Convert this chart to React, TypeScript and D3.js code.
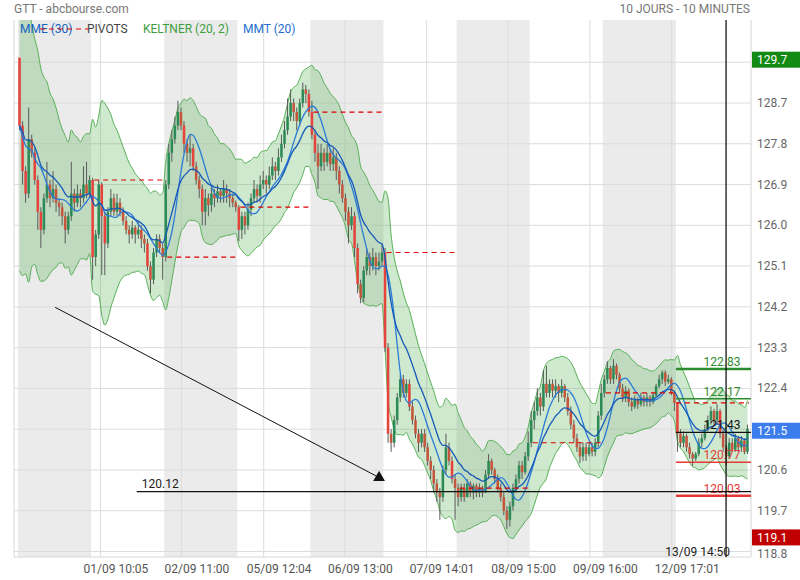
import React from "react";
import * as d3 from "d3";

const W = 800;
const H = 580;
const BARS_PER_DAY = 24;
const FIRST_OPEN = 129.7;

// closes, one row per trading day (24 bars each)
const closes = [
  128.2,127.2,126.7,127.9,127.6,127.0,126.3,125.9,126.6,126.9,126.6,126.8,126.5,126.4,126.2,125.9,126.2,126.7,126.5,126.7,126.6,126.9,126.7,127.0,
  125.3,125.8,126.9,126.2,125.6,126.3,126.6,126.3,126.5,126.3,126.1,125.9,125.8,125.95,125.8,125.9,125.7,125.6,125.1,124.8,125.4,125.7,125.5,125.3,
  126.9,127.6,127.9,128.2,128.5,128.2,127.8,127.6,127.7,127.3,127.0,126.8,126.3,126.6,126.45,126.7,126.6,126.75,126.65,126.8,126.7,126.6,126.5,126.4,
  125.9,126.2,126.0,126.35,126.6,126.8,126.65,126.9,127.0,126.9,127.1,127.3,127.2,127.5,127.8,128.1,128.4,128.7,128.5,128.3,128.7,129.0,128.9,128.5,
  128.0,127.6,127.3,127.6,127.4,127.6,127.35,127.5,127.2,126.9,126.6,126.3,126.0,126.2,125.5,124.7,124.4,125.0,125.3,125.1,125.3,125.1,125.2,125.4,
  123.3,121.4,121.2,121.7,122.2,122.6,122.3,122.5,122.0,121.7,121.4,121.2,121.4,121.1,120.8,120.6,120.3,120.1,120.0,120.6,121.1,120.8,120.4,120.2,
  120.0,120.2,120.0,120.3,120.1,120.25,120.1,120.2,120.1,120.5,120.8,120.6,120.4,120.2,120.0,119.7,119.5,119.8,120.2,120.4,120.7,120.55,120.9,121.2,
  121.7,121.9,122.2,122.0,122.5,122.3,122.5,122.35,122.45,122.3,122.45,122.2,121.9,121.6,121.3,121.1,120.9,121.1,120.95,121.1,121.0,121.2,121.8,122.3,
  122.6,122.85,122.6,122.9,122.7,122.4,122.2,122.35,122.1,122.0,122.15,122.05,122.2,122.1,122.2,122.1,122.25,122.45,122.6,122.75,122.55,122.6,122.3,122.08,
  121.4,121.2,121.35,121.1,120.95,120.85,120.95,121.2,121.3,121.5,121.7,121.9,121.7,121.9,121.4,121.1,120.9,121.2,121.05,121.3,121.1,121.25,121.0,121.51,
];

const highs = [
  129.7,128.3,127.3,128.6,128.0,127.7,127.1,126.4,126.7,127.4,127.0,127.2,126.9,126.6,126.5,126.3,126.3,127.4,126.8,126.9,126.8,127.3,127.4,127.1,
  127.05,125.9,127.0,126.95,126.3,126.4,126.8,126.7,126.7,126.6,126.4,126.2,126.0,126.1,126.0,126.1,126.0,125.8,125.7,125.2,125.5,125.8,125.8,125.6,
  127.0,127.8,128.1,128.4,128.75,128.6,128.3,127.9,128.0,127.8,127.4,127.1,126.9,126.8,126.7,126.9,126.8,126.9,126.8,127.0,126.9,126.8,126.7,126.55,
  126.45,126.3,126.3,126.5,126.7,127.0,126.9,127.1,127.2,127.1,127.3,127.5,127.4,127.7,128.0,128.3,128.8,129.0,128.8,128.6,128.8,129.15,129.1,129.0,
  128.75,128.1,127.8,127.8,127.7,127.8,127.7,127.7,127.6,127.3,127.0,126.7,126.4,126.4,126.3,125.6,124.8,125.1,125.5,125.4,125.5,125.4,125.4,125.6,
  125.5,123.4,121.5,121.8,122.3,122.7,122.7,122.6,122.6,122.1,121.8,121.5,121.5,121.5,121.2,120.9,120.7,120.4,120.2,120.7,121.4,121.2,120.9,120.5,
  120.3,120.3,120.3,120.4,120.35,120.3,120.3,120.3,120.25,120.6,120.95,120.85,120.65,120.5,120.3,120.1,119.8,119.9,120.3,120.5,120.8,120.8,121.0,121.45,
  121.9,122.1,122.4,122.3,122.8,122.9,122.6,122.6,122.6,122.5,122.6,122.5,122.3,122.0,121.7,121.4,121.2,121.2,121.2,121.2,121.2,121.3,121.9,122.5,
  122.7,123.0,122.9,123.05,122.95,122.75,122.5,122.45,122.4,122.2,122.25,122.2,122.3,122.25,122.3,122.25,122.3,122.5,122.7,122.8,122.8,122.7,122.65,122.35,
  122.09,121.5,121.45,121.4,121.2,121.0,121.0,121.3,121.4,121.6,121.8,122.0,121.95,122.05,121.95,121.5,121.15,121.3,121.3,121.4,121.35,121.35,121.3,121.6,
];

const lows = [
  128.1,126.9,126.5,126.6,127.5,126.9,125.9,125.5,125.8,126.5,126.4,126.5,126.3,126.2,126.0,125.6,125.8,126.1,126.3,126.4,126.4,126.5,126.6,126.6,
  124.8,125.1,125.7,124.9,124.9,125.5,126.2,126.2,126.2,126.2,126.0,125.8,125.6,125.7,125.6,125.7,125.5,125.4,125.0,124.5,124.7,125.3,125.4,124.8,
  125.2,126.8,127.4,127.8,128.1,128.1,127.6,127.4,127.3,127.2,126.9,126.6,126.0,126.0,126.2,126.3,126.4,126.5,126.5,126.5,126.5,126.4,126.4,126.3,
  125.65,125.7,125.8,125.9,126.2,126.5,126.5,126.5,126.8,126.7,126.8,127.0,127.0,127.1,127.4,127.7,128.0,128.3,128.3,128.1,128.2,128.6,128.7,128.4,
  127.9,127.4,126.8,127.2,127.2,127.3,127.2,127.2,127.0,126.7,126.5,126.1,125.6,125.9,125.3,124.5,124.28,124.3,124.9,124.9,125.0,124.9,125.0,125.1,
  123.2,121.2,121.0,121.1,121.6,122.1,122.2,122.2,121.9,121.6,121.3,121.0,121.1,121.0,120.7,120.4,120.1,119.9,119.5,119.9,120.5,120.7,120.3,119.5,
  119.8,119.9,119.9,120.0,120.0,119.95,120.0,120.0,120.0,120.1,120.4,120.5,120.3,120.1,119.9,119.6,119.3,119.35,119.7,120.1,120.3,120.4,120.5,120.8,
  121.1,121.5,121.8,121.8,121.9,122.2,122.2,122.2,122.2,122.1,122.2,122.1,121.8,121.5,121.2,121.0,120.75,120.8,120.8,120.9,120.9,120.9,121.1,121.7,
  122.2,122.5,122.5,122.5,122.6,122.3,122.1,122.1,122.0,121.9,121.95,121.95,122.0,122.0,122.0,122.0,122.05,122.2,122.4,122.5,122.45,122.5,122.25,121.9,
  121.0,121.1,121.1,121.0,120.85,120.69,120.8,120.9,121.1,121.25,121.45,121.6,121.6,121.6,121.3,121.0,120.7,120.85,121.0,121.0,121.0,121.0,120.95,120.95,
];

const yTickValues = [118.8, 119.7, 120.6, 121.5, 122.4, 123.3, 124.2, 125.1, 126.0, 126.9, 127.8, 128.7, 129.6];
const timeTickDays = [1, 2, 3, 4, 5, 6, 7, 8];
const timeTickLabels = ["01/09 10:05", "02/09 11:00", "05/09 12:04", "06/09 13:00", "07/09 14:01", "08/09 15:00", "09/09 16:00", "12/09 17:01"];
const timeTickMinutes = [605, 660, 724, 780, 841, 900, 960, 1021];
const crosshairDay = 9;
const crosshairMinutes = 890;
const crosshairLabel = "13/09 14:50";
const extremeLabels = [129.7, 119.1];
const trendFrom = [12.2, 124.19];
const trendTo = [119.2, 120.41];
const hLineStart = 39;
const hLineValue = 120.12;

const SESSION_START = 540;
const SESSION_LEN = 510;

function ema(vals: number[], p: number) {
  const a = 2 / (p + 1);
  const out: number[] = [];
  vals.forEach((v, i) => out.push(i === 0 ? v : out[i - 1] + a * (v - out[i - 1])));
  return out;
}
function sma(vals: number[], p: number) {
  return vals.map((_, i) => d3.mean(vals.slice(Math.max(0, i - p + 1), i + 1)) as number);
}

export default function App() {
  const N = closes.length;
  const opens = closes.map((_, i) => (i === 0 ? FIRST_OPEN : closes[i - 1]));
  const left = 14, right = 751, top = 20, bottom = 557;
  const x = d3.scaleLinear().domain([0, N]).range([18, 749]);
  const y = d3.scaleLinear().domain([118.8, 128.7]).range([551.5, 103]);
  const step = x(1) - x(0);
  const nDays = N / BARS_PER_DAY;

  // indicators
  const mme = ema(closes, 14);
  const mmt = sma(sma(closes, 5), 5);
  const mid = ema(closes, 10);
  const tr = closes.map((c, i) =>
    i === 0 ? highs[0] - lows[0] : Math.max(highs[i] - lows[i], Math.abs(highs[i] - closes[i - 1]), Math.abs(lows[i] - closes[i - 1]))
  );
  const atr = ema(tr, 10);
  const upper = mid.map((m, i) => m + 2 * atr[i]);
  const lower = mid.map((m, i) => m - 2 * atr[i]);

  const area = d3.area<number>().x((_, i) => x(i + 0.5)).y0((_, i) => y(lower[i])).y1((_, i) => y(upper[i])).curve(d3.curveMonotoneX);
  const line = (arr: number[]) => d3.line<number>().x((_, i) => x(i + 0.5)).y((v) => y(v)).curve(d3.curveMonotoneX)(arr) as string;

  const timePos = (day: number, minutes: number) => day * BARS_PER_DAY + ((minutes - SESSION_START) / SESSION_LEN) * BARS_PER_DAY;

  // last day pivots
  const lastStart = (nDays - 1) * BARS_PER_DAY;
  const lh = d3.max(highs.slice(lastStart)) as number;
  const ll = d3.min(lows.slice(lastStart)) as number;
  const lc = closes[N - 1];
  const P = (lh + ll + lc) / 3;
  const pivots = [
    { v: P + (lh - ll), c: "#2e8b2e", w: 2.5 },
    { v: 2 * P - ll, c: "#2e8b2e", w: 1.5 },
    { v: P, c: "#111", w: 1.2 },
    { v: 2 * P - lh, c: "#e53935", w: 1.5 },
    { v: P - (lh - ll), c: "#e53935", w: 2.5 },
  ];

  const boxes = [
    { v: extremeLabels[0], c: "#138a13", dy: 2 },
    { v: lc, c: "#3b7ded", dy: 2 },
    { v: extremeLabels[1], c: "#c00000", dy: -0.5 },
  ];
  const tickShown = (v: number) => v < 119 || boxes.every((b) => Math.abs(y(b.v) + b.dy - y(v)) > 12);

  const font = "Roboto, 'Open Sans', sans-serif";
  const crossX = x(timePos(crosshairDay, crosshairMinutes));

  return (
    <svg width={W} height={H} style={{ position: "absolute", left: 0, top: 0, background: "#fff" }} fontFamily={font}>
      <defs>
        <clipPath id="plot">
          <rect x={left} y={top} width={right - left} height={bottom - top} />
        </clipPath>
      </defs>
      {/* day bands */}
      {d3.range(0, nDays, 2).map((d) => (
        <rect key={d} x={x(d * BARS_PER_DAY)} y={top} width={x((d + 1) * BARS_PER_DAY) - x(d * BARS_PER_DAY)} height={bottom - top} fill="#ebebeb" />
      ))}
      {/* grid */}
      {yTickValues.map((v) => (
        <line key={v} x1={left} x2={right} y1={y(v)} y2={y(v)} stroke="#dcdcdc" strokeWidth={1} />
      ))}
      {timeTickDays.map((d, i) => {
        const xx = x(timePos(d, timeTickMinutes[i]));
        return <line key={i} x1={xx} x2={xx} y1={top} y2={bottom} stroke="#dcdcdc" strokeWidth={1} />;
      })}
      <line x1={left} x2={left} y1={top} y2={bottom} stroke="#d6d6d6" />
      <line x1={right} x2={right} y1={top} y2={bottom} stroke="#d6d6d6" />
      <line x1={left} x2={right} y1={bottom} y2={bottom} stroke="#d6d6d6" />

      <g clipPath="url(#plot)">
        {/* keltner */}
        <path d={area(closes) as string} fill="rgba(70,170,70,0.26)" />
        <path d={line(upper)} fill="none" stroke="#55b055" strokeWidth={1} />
        <path d={line(lower)} fill="none" stroke="#55b055" strokeWidth={1} />
        {/* candles */}
        {closes.map((c, i) => {
          const o = opens[i];
          const cx = x(i + 0.5);
          const up = c >= o;
          const big = Math.abs(c - o) > 0.35;
          const fill = up ? "#2e8b57" : big ? "#e5443c" : "#c5553b";
          const y1 = y(Math.max(o, c));
          const y2 = y(Math.min(o, c));
          return (
            <g key={i}>
              <line x1={cx} x2={cx} y1={y(highs[i])} y2={y(lows[i])} stroke="#5a5a5a" strokeWidth={1} />
              <rect x={cx - step * 0.42} y={y1} width={step * 0.84} height={Math.max(1, y2 - y1)} fill={fill} />
            </g>
          );
        })}
        {/* moving averages */}
        <path d={line(mmt)} fill="none" stroke="#2b7bd6" strokeWidth={1.3} />
        <path d={line(mme)} fill="none" stroke="#1559b8" strokeWidth={1.3} />
        {/* previous close dashed lines */}
        {d3.range(1, nDays).map((d) => (
          <line key={d} x1={x(d * BARS_PER_DAY + (d === nDays - 1 ? 0 : 1))} x2={x((d + 1) * BARS_PER_DAY) - (d === nDays - 1 ? 0 : 1)}
            y1={y(closes[d * BARS_PER_DAY - 1])} y2={y(closes[d * BARS_PER_DAY - 1])}
            stroke="#e00000" strokeWidth={1.2} strokeDasharray="5,4" />
        ))}
        {/* pivots */}
        {pivots.map((p, i) => (
          <g key={i}>
            <line x1={x(lastStart)} x2={right} y1={y(p.v)} y2={y(p.v)} stroke={p.c} strokeWidth={p.w} />
            <text x={722} y={y(p.v) - 3} textAnchor="middle" fontSize={12} fill={p.c}>{p.v.toFixed(2)}</text>
          </g>
        ))}
        {/* drawings */}
        <line x1={x(trendFrom[0])} y1={y(trendFrom[1])} x2={x(trendTo[0])} y2={y(trendTo[1])} stroke="#111" strokeWidth={1} />
        <path d={d3.symbol(d3.symbolTriangle, 60)() as string} transform={`translate(${x(trendTo[0]) - 2},${y(trendTo[1]) - 1})`} fill="#111" />
        <line x1={x(hLineStart)} x2={right} y1={y(hLineValue)} y2={y(hLineValue)} stroke="#111" strokeWidth={1.2} />
        <text x={x(hLineStart) + 5} y={y(hLineValue) - 4} fontSize={12} fill="#222">{hLineValue.toFixed(2)}</text>
      </g>
      {/* crosshair */}
      <line x1={crossX} x2={crossX} y1={top} y2={bottom} stroke="#000" strokeWidth={1.2} />
      <text x={crossX + 4} y={556} textAnchor="end" fontSize={12} fill="#222">{crosshairLabel}</text>

      {/* right axis */}
      {yTickValues.filter(tickShown).map((v) => (
        <text key={v} x={757} y={y(v) + (v < 119 ? 6.5 : 4)} fontSize={12} fill="#666">{v.toFixed(1)}</text>
      ))}
      {boxes.map((b, i) => (
        <g key={i}>
          <rect x={752} y={y(b.v) + b.dy - 8} width={48} height={16} fill={b.c} />
          <text x={757} y={y(b.v) + b.dy + 4.5} fontSize={12} fill="#fff">{b.v.toFixed(1)}</text>
        </g>
      ))}

      {/* time axis */}
      {timeTickDays.map((d, i) => (
        <text key={i} x={x(timePos(d, timeTickMinutes[i])) + 15.5} y={573} textAnchor="middle" fontSize={12} fill="#555">{timeTickLabels[i]}</text>
      ))}

      {/* titles & legend */}
      <text x={14} y={13} fontSize={12} fill="#777">GTT - abcbourse.com</text>
      <text x={750} y={13} textAnchor="end" fontSize={12} fill="#777">10 JOURS - 10 MINUTES</text>
      <text x={20} y={33} fontSize={12} fill="#1565c0">MME (30)</text>
      <line x1={40} x2={88} y1={29} y2={29} stroke="#e00000" strokeWidth={1.2} strokeDasharray="5,4" />
      <text x={87} y={33} fontSize={12} fill="#444">PIVOTS</text>
      <text x={143} y={33} fontSize={12} fill="#3e9e3e">KELTNER (20, 2)</text>
      <text x={243} y={33} fontSize={12} fill="#1e6fd0">MMT (20)</text>
    </svg>
  );
}
